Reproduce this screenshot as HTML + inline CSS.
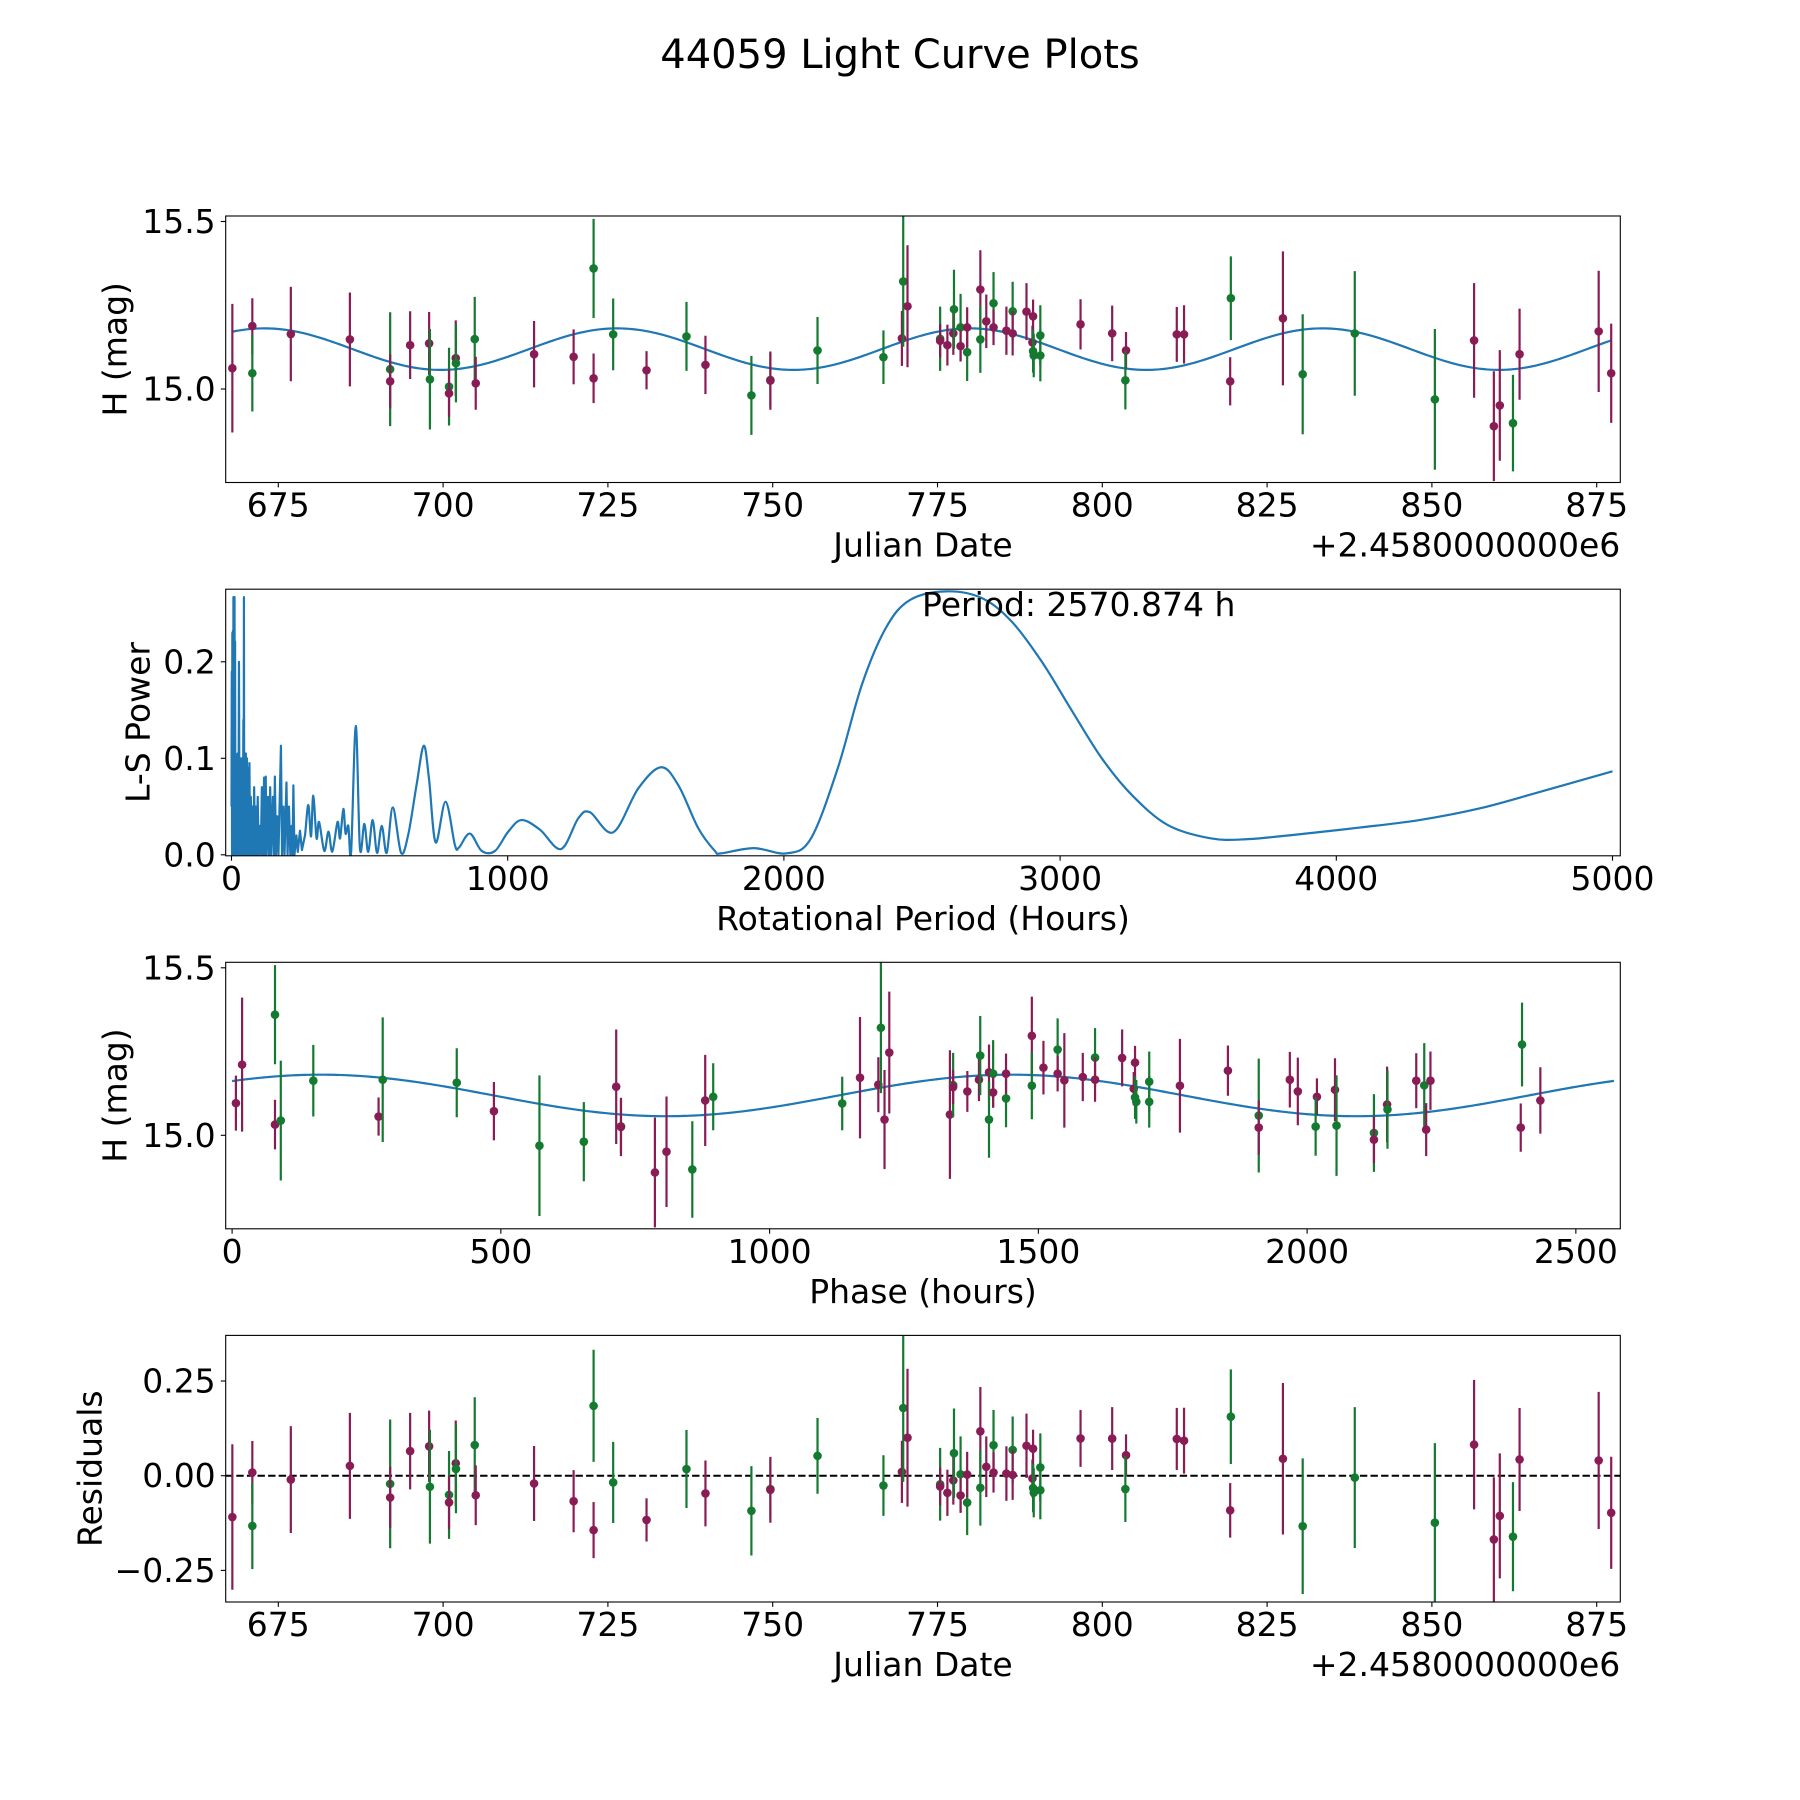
<!DOCTYPE html>
<html><head><meta charset="utf-8"><style>
html,body{margin:0;padding:0;background:#fff}
svg{display:block;font-family:"DejaVu Sans","Liberation Sans",sans-serif}
</style></head><body>
<svg id="fig" width="1800" height="1800" viewBox="0 0 1800 1800" xmlns="http://www.w3.org/2000/svg">
<rect width="1800" height="1800" fill="#fff"/>
<text x="900" y="68" font-size="40" text-anchor="middle">44059 Light Curve Plots</text>
</svg>
<script>
// ---- data ----
const obsJd = [668.03,671.06,671.06,676.9,685.86,691.97,691.97,695.0,697.88,698.0,700.9,700.9,701.92,701.95,704.8,704.95,713.8,719.8,722.83,722.83,725.8,730.86,736.92,739.8,746.77,749.65,749.65,756.8,766.8,769.6,769.8,770.45,775.4,775.4,776.5,777.4,777.5,778.5,778.5,779.5,779.5,781.5,781.5,782.4,783.5,783.5,785.45,786.4,786.4,788.5,789.5,789.4,789.5,789.6,790.6,790.6,796.7,801.5,803.6,803.5,811.3,812.4,819.5,819.4,827.4,830.4,838.3,850.45,856.4,859.4,860.3,862.3,863.3,875.3,877.2];
const obsMag = [15.062,15.188,15.047,15.164,15.148,15.059,15.023,15.131,15.136,15.029,15.007,14.987,15.092,15.077,15.149,15.017,15.104,15.096,15.36,15.032,15.163,15.056,15.157,15.072,14.981,15.027,15.025,15.115,15.095,15.151,15.321,15.247,15.15,15.144,15.131,15.166,15.238,15.184,15.128,15.11,15.184,15.297,15.148,15.202,15.256,15.184,15.174,15.232,15.166,15.231,15.217,15.139,15.113,15.1,15.16,15.1,15.193,15.166,15.115,15.026,15.163,15.163,15.271,15.023,15.211,15.044,15.166,14.969,15.145,14.889,14.951,14.898,15.104,15.172,15.047];
const obsErr = [0.192,0.083,0.114,0.141,0.14,0.17,0.081,0.101,0.094,0.15,0.116,0.07,0.113,0.117,0.126,0.079,0.099,0.082,0.148,0.074,0.107,0.057,0.103,0.087,0.118,0.08,0.087,0.1,0.08,0.082,0.195,0.182,0.096,0.05,0.061,0.064,0.118,0.1,0.046,0.086,0.06,0.117,0.1,0.08,0.093,0.053,0.072,0.088,0.066,0.085,0.05,0.05,0.064,0.065,0.09,0.077,0.075,0.083,0.055,0.087,0.082,0.087,0.125,0.072,0.2,0.179,0.186,0.21,0.171,0.164,0.165,0.144,0.136,0.181,0.148];
const obsBand = ["P","P","G","P","P","G","P","P","P","G","G","P","P","G","G","P","P","P","G","P","G","P","G","P","G","G","P","G","G","P","G","P","G","P","P","P","G","G","P","G","P","P","G","P","G","P","P","G","P","P","P","P","G","G","G","G","P","P","P","G","P","P","G","P","P","G","G","G","P","P","P","G","P","P","P"];
// model parameters
const modelMean = 15.119, modelAmp = 0.062, modelPeakJd = 672.9, modelPeriodDays = 53.5;
const bestPeriodH = 2570.874, phaseT0 = 719.505;
// periodogram (period hours, power)
const lsPeriod = [0,1,2,3,4,5,6,7,8,9,10,11,12,13,14,15,17,19,21,23,25,27,29,31,33,35,37,39,41,43,44,45,46,48,50,52,54,56,58,60,62,65,67,70,73,76,79,82,85,88,91,95,98,102,106,110,114,118,121,124,127,132,136,140,144,150,154,157,161,165,170,179,183,188,192,199,203,208,213,218,221,224,228,235,240,248,255,266,278,288,296,308,317,336,351,365,384,393,405,413,423,433,450,465,481,495,511,527,544,562,584,614,640,670,696,715,739,775,809,824,863,906,954,1002,1050,1117,1193,1256,1298,1382,1473,1555,1618,1690,1750,1772,1891,2011,2098,2195,2282,2369,2456,2587,2717,2825,2934,3042,3151,3260,3390,3542,3672,3867,4084,4301,4518,4735,5000];
const lsPower = [0.05,0.19,0.0,0.23,0.02,0.232,0.0,0.267,0.01,0.22,0.0,0.267,0.02,0.221,0.0,0.105,0.0,0.10,0.0,0.105,0.0,0.2,0.02,0.09,0.0,0.1,0.0,0.08,0.0,0.14,0.0,0.267,0.02,0.10,0.0,0.105,0.0,0.10,0.0,0.09,0.0,0.095,0.0,0.06,0.0,0.05,0.0,0.07,0.0,0.05,0.0,0.06,0.0,0.03,0.0,0.07,0.0,0.08,0.0,0.081,0.0,0.06,0.0,0.07,0.0,0.06,0.0,0.081,0.0,0.04,0.0,0.113,0.0,0.05,0.0,0.075,0.0,0.05,0.0,0.03,0.0,0.072,0.0,0.02,0.003,0.025,0.005,0.02,0.0516,0.019,0.0613,0.017,0.034,0.004,0.024,0.0033,0.034,0.017,0.0475,0.022,0.030,0.0025,0.1335,0.0067,0.032,0.003,0.036,0.002,0.030,0.002,0.049,0.002,0.021,0.0724,0.113,0.079,0.0129,0.055,0.010,0.0077,0.022,0.004,0.004,0.024,0.036,0.026,0.006,0.038,0.0441,0.0233,0.0689,0.0907,0.072,0.0275,0.004,0.0015,0.0069,0.0015,0.017,0.0897,0.176,0.235,0.264,0.273,0.266,0.2416,0.2,0.1496,0.1,0.0619,0.0308,0.0172,0.0161,0.0213,0.0282,0.036,0.048,0.065,0.0865];
const jdTicks = [675,700,725,750,775,800,825,850,875];
const magTicks = [15.0,15.5];
const lsXTicks = [0,1000,2000,3000,4000,5000];
const lsYTicks = [0.0,0.1,0.2];
const phaseTicks = [0,500,1000,1500,2000,2500];
const resTicks = [-0.25,0.0,0.25];

// ---- helpers ----
const NS="http://www.w3.org/2000/svg";
const svg=document.getElementById('fig');
const PURPLE="#8a1c55", GREEN="#137a30", BLUE="#1f77b4";
const FS=33;
function mk(tag,attrs,parent){const e=document.createElementNS(NS,tag);for(const k in attrs)e.setAttribute(k,attrs[k]);(parent||svg).appendChild(e);return e;}
function model(t){return modelMean+modelAmp*Math.cos(2*Math.PI*(t-modelPeakJd)/modelPeriodDays);}
function lin(d0,d1,r0,r1){return v=>r0+(v-d0)*(r1-r0)/(d1-d0);}
const L=225.7,R=1620.3;
let clipId=0;
function panel(name,top,bottom,xs,ys,xticks,xfmt,yticks,yfmt,xlabel,ylabel,ylabelX,offsetText){
  const g=mk('g',{},svg);
  
  
  const id='clip'+(clipId++);
  const cp=mk('clipPath',{id:id},g);mk('rect',{x:L,y:top,width:R-L,height:bottom-top},cp);
  const plot=mk('g',{'clip-path':'url(#'+id+')'},g);
  
  
  const ax=mk('g',{},g);
  xticks.forEach(v=>{const x=xs(v);
    const t=mk('line',{x1:x,x2:x,y1:bottom,y2:bottom+4.9,stroke:'#000','stroke-width':1.1},ax);
    
    const tx=mk('text',{x:x,y:bottom+34,'font-size':FS,'text-anchor':'middle'},ax);tx.textContent=xfmt(v);
    });
  yticks.forEach(v=>{const y=ys(v);
    const t=mk('line',{x1:L-4.9,x2:L,y1:y,y2:y,stroke:'#000','stroke-width':1.1},ax);
    
    const tx=mk('text',{x:L-10,y:y+11.5,'font-size':FS,'text-anchor':'end'},ax);tx.textContent=yfmt(v);
    });
  const xl=mk('text',{x:(L+R)/2,y:bottom+74,'font-size':FS,'text-anchor':'middle'},ax);xl.textContent=xlabel;
  
  const cy=(top+bottom)/2;
  const yl=mk('text',{x:ylabelX,y:cy,'font-size':FS,'text-anchor':'middle','dominant-baseline':'central',transform:'rotate(-90 '+ylabelX+' '+cy+')'},ax);yl.textContent=ylabel;
  
  if(offsetText){const o=mk('text',{x:R,y:bottom+74,'font-size':FS,'text-anchor':'end'},ax);o.textContent=offsetText;
    }
  return {plot,ax,finish(){const f=mk('rect',{x:L,y:top,width:R-L,height:bottom-top,fill:'none',stroke:'#000','stroke-width':1.1},g);
    }};
}
function errPoints(plot,xv,yv,ev,ys,nm){
  for(let i=0;i<xv.length;i++){
    const c=obsBand[i]==='P'?PURPLE:GREEN;const x=xv[i];
    const b=mk('line',{x1:x,x2:x,y1:ys(yv[i]-ev[i]),y2:ys(yv[i]+ev[i]),stroke:c,'stroke-width':2.2},plot);
    
    const d=mk('circle',{cx:x,cy:ys(yv[i]),r:4.3,fill:c},plot);
    
  }
}
function curve(plot,xf,yf,n,a,b,nm){let d='';for(let i=0;i<=n;i++){const t=a+(b-a)*i/n;d+=(i?'L':'M')+xf(t).toFixed(2)+' '+yf(t).toFixed(2);}
  const p=mk('path',{d:d,fill:'none',stroke:BLUE,'stroke-width':2.2},plot);}

// ---- panel 1: light curve ----
const jdX=lin(675,875,278.3,1596.7);
const m1=lin(15.0,15.5,389.0,221.5);
const p1=panel('light-curve-panel',216,482.5,jdX,m1,jdTicks,v=>String(v),magTicks,v=>v.toFixed(1),'Julian Date','H (mag)',115,'+2.4580000000e6');
curve(p1.plot,jdX,t=>m1(model(t)),400,obsJd[0],obsJd[obsJd.length-1],'model-curve');
errPoints(p1.plot,obsJd.map(jdX),obsMag,obsErr,m1,'observation');
p1.finish();

// ---- panel 2: periodogram ----
const lsX=lin(0,5000,231.5,1612.5);
const lsY=lin(0,0.1,854.8,758.3);
const p2=panel('periodogram-panel',589.2,855.8,lsX,lsY,lsXTicks,v=>String(v),lsYTicks,v=>v.toFixed(1),'Rotational Period (Hours)','L-S Power',138,null);
{const px=lsPeriod.map(lsX), py=lsPower.map(lsY);
 let d='M'+px[0].toFixed(2)+' '+py[0].toFixed(2);
 for(let i=1;i<px.length;i++){
   if(lsPeriod[i]<=266){d+='L'+px[i].toFixed(2)+' '+py[i].toFixed(2);continue;}
   const i0=Math.max(0,i-2),i1=i-1,i2=i,i3=Math.min(px.length-1,i+1);
   const c1x=px[i1]+(px[i2]-px[i0])/6, c1y=py[i1]+(py[i2]-py[i0])/6;
   const c2x=px[i2]-(px[i3]-px[i1])/6, c2y=py[i2]-(py[i3]-py[i1])/6;
   d+='C'+c1x.toFixed(2)+' '+c1y.toFixed(2)+' '+c2x.toFixed(2)+' '+c2y.toFixed(2)+' '+px[i2].toFixed(2)+' '+py[i2].toFixed(2);
 }
 const p=mk('path',{d:d,fill:'none',stroke:BLUE,'stroke-width':2.2,'stroke-linejoin':'round'},p2.plot);
 }
{const t=mk('text',{x:922,y:616,'font-size':FS},svg);t.textContent='Period: '+bestPeriodH.toFixed(3)+' h';
 }
p2.finish();

// ---- panel 3: phase folded ----
const phX=lin(0,1000,232.1,769.6);
const m3=lin(15.0,15.5,1135.3,967.8);
const p3=panel('phase-panel',962.3,1228.8,phX,m3,phaseTicks,v=>String(v),magTicks,v=>v.toFixed(1),'Phase (hours)','H (mag)',115,null);
const phases=obsJd.map(t=>{let p=((t-phaseT0)*24)%bestPeriodH;if(p<0)p+=bestPeriodH;return p;});
curve(p3.plot,phX,ph=>m3(model(phaseT0+ph/24)),400,0,bestPeriodH,'phase-model-curve');
errPoints(p3.plot,phases.map(phX),obsMag,obsErr,m3,'phase');
p3.finish();

// ---- panel 4: residuals ----
const r4=lin(0,0.25,1475.7,1381);
const p4=panel('residuals-panel',1335.4,1602,jdX,r4,jdTicks,v=>String(v),resTicks,v=>(v<0?'\u2212':'')+Math.abs(v).toFixed(2),'Julian Date','Residuals',90,'+2.4580000000e6');
{const z=mk('line',{x1:L,x2:R,y1:r4(0),y2:r4(0),stroke:'#000','stroke-width':2,'stroke-dasharray':'7.4,3.2'},p4.plot);
 }
const resid=obsJd.map((t,i)=>obsMag[i]-model(t));
errPoints(p4.plot,obsJd.map(jdX),resid,obsErr,r4,'residual');
p4.finish();
</script>
</body></html>
